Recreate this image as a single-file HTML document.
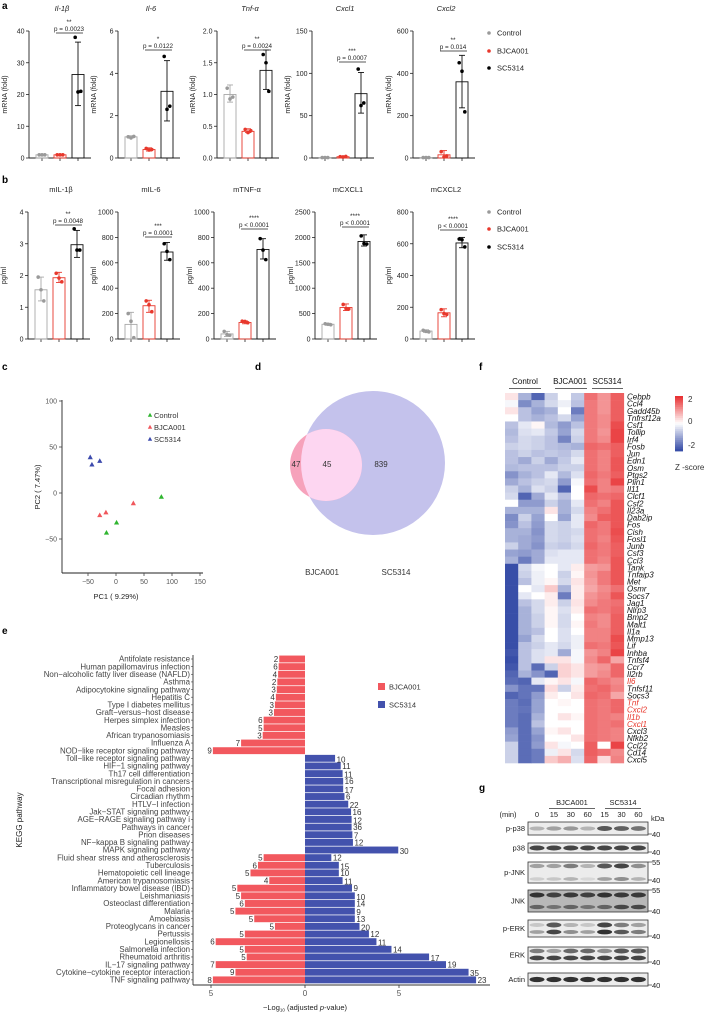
<!DOCTYPE html>
<html><head><meta charset="utf-8"><style>
body{margin:0;background:#fff}
svg{display:block;font-family:"Liberation Sans",Arial,sans-serif}
</style></head><body>
<svg id="fig" width="718" height="1014" viewBox="0 0 718 1014" xmlns="http://www.w3.org/2000/svg">
<defs><clipPath id="bigc"><circle cx="373" cy="463" r="72"/></clipPath></defs>
<g font-weight="bold" font-size="10" fill="#000">
<text x="2" y="9">a</text>
<text x="2" y="183">b</text>
<text x="2" y="370">c</text>
<text x="255" y="370">d</text>
<text x="2" y="634">e</text>
<text x="479" y="370">f</text>
<text x="479" y="791">g</text>
</g>
<g>
<circle cx="373" cy="463" r="72" fill="#c4c2ec"/>
<circle cx="326" cy="465" r="36" fill="#f6a2bb"/>
<circle cx="326" cy="465" r="36" fill="#fdd6f1" clip-path="url(#bigc)"/>
<text x="296" y="467" font-size="8" text-anchor="middle" fill="#333">47</text>
<text x="327" y="467" font-size="8" text-anchor="middle" fill="#333">45</text>
<text x="381" y="467" font-size="8" text-anchor="middle" fill="#333">839</text>
<text x="322" y="575" font-size="8" text-anchor="middle" fill="#333">BJCA001</text>
<text x="396" y="575" font-size="8" text-anchor="middle" fill="#333">SC5314</text>
</g>
</svg>
<script>
// ---------- data: panel a ----------
const aTitles=["Il-1β","Il-6","Tnf-α","Cxcl1","Cxcl2"];
const aMax=[40,6,2,150,600];
const aTicks=[[0,10,20,30,40],[0,2,4,6],[0,0.5,1,1.5,2],[0,50,100,150],[0,200,400,600]];
const aTickLabels=[["0","10","20","30","40"],["0","2","4","6"],["0.0","0.5","1.0","1.5","2.0"],["0","50","100","150"],["0","200","400","600"]];
const aMeans=[[1,1,26.3],[1,0.4,3.15],[1,0.42,1.38],[0.5,1.5,76],[2,15,360]];
const aErrLo=[[0.8,0.8,16.5],[0.95,0.33,1.75],[0.88,0.4,1.08],[0,1,53],[0,0,237]];
const aErrHi=[[1.2,1.2,36.5],[1.05,0.48,4.6],[1.15,0.46,1.7],[1,2,101],[4,35,485]];
const aPts=[[[1,1,1],[1,1,1],[38,20.8,21]],[[1,0.95,1.02],[0.45,0.38,0.4],[4.8,2.3,2.45]],[[1.1,0.93,0.96],[0.45,0.4,0.43],[1.63,1.5,1.05]],[[0.5,0.5,0.5],[1.5,1.2,1.8],[105,62,65]],[[2,2,2],[30,5,10],[450,410,218]]];
const aStars=["**","*","**","***","**"];
const aP=["p = 0.0023","p = 0.0122","p = 0.0024","p = 0.0007","p = 0.014"];
// ---------- data: panel b ----------
const bTitles=["mIL-1β","mIL-6","mTNF-α","mCXCL1","mCXCL2"];
const bMax=[4,1000,1000,2500,800];
const bTicks=[[0,1,2,3,4],[0,200,400,600,800,1000],[0,200,400,600,800,1000],[0,500,1000,1500,2000,2500],[0,200,400,600,800]];
const bTickLabels=[["0","1","2","3","4"],["0","200","400","600","800","1000"],["0","200","400","600","800","1000"],["0","500","1000","1500","2000","2500"],["0","200","400","600","800"]];
const bMeans=[[1.55,1.93,2.97],[115,262,685],[40,130,705],[290,620,1920],[50,165,605]];
const bErrLo=[[1.2,1.78,2.57],[0,210,620],[20,120,630],[270,560,1830],[42,140,575]];
const bErrHi=[[1.95,2.1,3.42],[210,305,760],[60,142,790],[310,690,2050],[58,190,640]];
const bPts=[[[1.95,1.55,1.2],[2.07,1.92,1.8],[3.47,2.8,2.8]],[[200,140,10],[300,270,215],[750,690,625]],[[60,35,30],[140,138,128],[790,700,625]],[[300,290,280],[680,600,590],[2030,1880,1870]],[[55,48,45],[185,160,155],[630,625,580]]];
const bStars=["**","***","****","****","****"];
const bP=["p = 0.0048","p = 0.0001","p < 0.0001","p < 0.0001","p < 0.0001"];
// ---------- data: panel c ----------
const pcaCtrl=[[81,-4],[1,-32],[-17,-43]];
const pcaBj=[[31,-11],[-29,-24],[-18,-21]];
const pcaSc=[[-46,39],[-43,31],[-29,35]];
const pcaXTicks=[-50,0,50,100,150];
const pcaYTicks=[-50,0,50,100];
// ---------- data: panel e ----------
const keggNames=["Antifolate resistance","Human papillomavirus infection","Non−alcoholic fatty liver disease (NAFLD)","Asthma","Adipocytokine signaling pathway","Hepatitis C","Type I diabetes mellitus","Graft−versus−host disease","Herpes simplex infection","Measles","African trypanosomiasis","Influenza A","NOD−like receptor signaling pathway","Toll−like receptor signaling pathway","HIF−1 signaling pathway","Th17 cell differentiation","Transcriptional misregulation in cancers","Focal adhesion","Circadian rhythm","HTLV−I infection","Jak−STAT signaling pathway","AGE−RAGE signaling pathway i","Pathways in cancer","Prion diseases","NF−kappa B signaling pathway","MAPK signaling pathway","Fluid shear stress and atherosclerosis","Tuberculosis","Hematopoietic cell lineage","American trypanosomiasis","Inflammatory bowel disease (IBD)","Leishmaniasis","Osteoclast differentiation","Malaria","Amoebiasis","Proteoglycans in cancer","Pertussis","Legionellosis","Salmonella infection","Rheumatoid arthritis","IL−17 signaling pathway","Cytokine−cytokine receptor interaction","TNF signaling pathway"];
const keggBj=[1.37,1.4,1.43,1.47,1.5,1.55,1.6,1.65,2.2,2.2,2.25,3.4,4.9,0,0,0,0,0,0,0,0,0,0,0,0,0,2.2,2.5,2.9,1.9,3.6,3.4,3.2,3.7,2.7,1.6,3.2,4.75,3.2,3.1,4.75,3.7,4.9];
const keggBjCount=[2,6,4,2,3,4,3,3,6,5,3,7,9,0,0,0,0,0,0,0,0,0,0,0,0,0,5,6,5,4,5,5,6,5,5,5,5,6,5,5,7,9,8];
const keggSc=[0,0,0,0,0,0,0,0,0,0,0,0,0,1.6,1.9,2.0,2.03,2.03,2.1,2.3,2.45,2.48,2.48,2.52,2.55,4.96,1.4,1.8,1.8,2.0,2.5,2.65,2.65,2.65,2.65,2.9,3.4,3.8,4.6,6.6,7.5,8.7,9.1];
const keggScCount=[0,0,0,0,0,0,0,0,0,0,0,0,0,10,11,11,16,17,6,22,16,12,36,7,12,30,12,15,10,11,9,10,14,9,13,20,12,11,14,17,19,35,23];
const keggXTicks=[-5,0,5];
// ---------- data: panel f ----------
const genes=["Cebpb","Ccl4","Gadd45b","Tnfrsf12a","Csf1","Tollip","Irf4","Fosb","Jun","Edn1","Osm","Ptgs2","Plin1","Il11","Clcf1","Csf2","Il23a","Dab2ip","Fos","Cish","Fosl1","Junb","Csf3","Ccl3","Tank","Tnfaip3","Met","Osmr","Socs7","Jag1","Nlrp3","Bmp2","Malt1","Il1a","Mmp13","Lif","Inhba","Tnfsf4","Ccr7","Il2rb","Il6","Tnfsf11","Socs3","Tnf","Cxcl2","Il1b","Cxcl1","Cxcl3","Nfkb2","Ccl22","Cd14","Cxcl5"];
const redGenes=["Il6","Tnf","Cxcl2","Il1b","Cxcl1"];
const zScores=[
[0.3,-1,-2,-0.6,0,-0.7,1.6,1.2,1.8],[-0.1,-1.5,-1,-0.5,-0.2,-0.8,1.5,1.2,1.8],[0.3,-0.8,-1.2,-1,0,-1.7,1.5,1.2,1.8],[0,-0.8,-1,-0.8,-0.5,-1.2,1.5,1.3,1.8],
[-0.8,-0.3,0.1,-0.9,-1.3,-0.8,1.5,1.3,2],[-0.9,-0.4,-0.3,-0.7,-1.2,-0.5,1.5,1.2,2.1],[-0.8,-0.5,-0.6,-0.8,-1.6,-0.6,1.5,1.3,2.1],[-0.6,-0.5,-0.6,-0.8,-0.9,-1,1.7,1.6,1.8],
[-0.8,-0.6,-0.8,-0.7,-0.8,-0.5,1.6,1.4,1.8],[-0.8,-1.1,-0.6,-1.1,-0.7,-0.3,1.6,1.4,1.9],[-0.9,-0.8,-0.8,-0.8,-0.6,-0.6,1.6,1.4,1.9],[-1.4,-1,-0.8,-0.3,-0.9,-0.4,1.7,1.5,1.8],
[-1.1,-0.8,-0.6,-0.5,-1.3,-0.1,1.6,1.4,2.1],[-0.6,-1,-0.4,-0.6,-2,0,2,1.4,1.5],[-0.5,-2,-1.1,-0.3,-0.8,0,1.7,1.6,1.7],[0,-1.3,-1.3,-0.6,-1,-0.3,1.6,1.4,1.9],
[-1,-1,-1,0.3,-1,-0.5,1.4,1.6,1.9],[-1.5,-0.6,-1.2,0,-1.2,-0.3,1.3,1.8,1.9],[-1.4,-0.8,-1.3,-0.5,-0.6,-0.3,1.7,1.5,1.9],[-1,-1,-1.4,-0.5,-0.6,-0.5,1.6,1.5,2],
[-1,-1.1,-1.3,-0.5,-0.6,-0.4,1.6,1.4,1.9],[-0.6,-1.1,-1.4,-0.6,-0.7,-0.5,1.7,1.5,1.8],[-1.2,-1.3,-1.1,-0.4,-0.3,-0.3,1.6,1.5,1.8],[-1,-1.7,-1.1,-0.3,-0.3,-0.3,1.6,1.4,1.9],
[-2.3,-0.5,-0.1,0,-0.3,0.2,1.1,1.2,1.9],[-2.3,-0.6,-0.2,0,-0.6,0.1,1.2,1.5,1.9],[-2.3,-0.8,-0.2,0.1,-0.5,0.3,1.1,1.5,1.9],[-2.3,0,-0.3,0.6,-1,0.2,1,1.3,1.6],
[-2.3,-0.3,0,0.2,-1.7,0.2,1.2,1.4,1.9],[-2.3,-0.8,-0.5,0.2,-0.6,0.3,1.3,1.5,1.6],[-2.3,-1,-0.5,0.1,-0.4,0.2,1.6,1.5,1.7],[-2.3,-1,-0.6,0.1,-0.5,0,1.4,1.3,1.8],
[-2.3,-1,-0.6,0.1,-0.5,0.1,1.5,1.3,1.8],[-2.3,-1,-0.8,0,-0.4,0,1.4,1.4,1.8],[-2.3,-1.2,-0.5,0,-0.4,-0.2,1.4,1.4,2],[-2.3,-0.8,-0.6,-0.3,-0.5,-0.2,1.6,1.5,1.9],
[-2.2,-0.8,-0.4,-0.3,-1.1,-0.1,1.2,1.4,2.1],[-2.5,-0.8,-0.4,0.3,0.3,-0.1,1.3,1.7,1],[-2.2,-0.8,-1.9,-0.6,0.5,0.3,1.1,1.2,1.7],[-2,-1,-1.4,-2,0.5,0.3,1.1,1.3,1.7],
[-1.9,-2,-0.3,0.1,0.3,-0.1,1.7,1.5,1.3],[-1.4,-1.8,-1.8,0.4,-0.6,0.2,1.6,1.7,1.4],[-2,-1.8,-1.3,0.2,0,0.3,1.7,1.6,1],[-1.7,-1.9,-1.2,0,0.1,0,1.6,1.5,1.7],
[-1.7,-1.8,-1.2,0,0,0,1.6,1.5,1.7],[-1.7,-1.9,-1,0,0.3,0.1,1.6,1.5,1.4],[-1.7,-1.9,-0.8,0,0,0,1.6,1.5,1.6],[-1.3,-1.9,-1.2,0.1,0.3,0,1.6,1.5,1.4],
[-1.2,-1.9,-1.4,0,0,0.3,1.6,1.5,1.4],[-0.6,-1.9,-1.3,0.3,-0.1,0,1.8,0,2.1],[-0.6,-1.9,-1.7,-0.2,0.3,-0.5,1.8,1.6,1.3],[-0.6,-1.9,-1.7,0.6,0.9,-0.4,1.7,0.4,1.4]];
// ---------- data: panel g ----------
const blotRows=["p-p38","p38","p-JNK","JNK","p-ERK","ERK","Actin"];
const laneLabels=["0","15","30","60","15","30","60"];
const blotUpper=[[0.3,0.4,0.45,0.3,0.8,0.75,0.65],[0.9,0.9,0.9,0.9,0.9,0.9,0.9],[0.4,0.4,0.6,0.3,0.8,0.9,0.5],[0.95,0.85,0.9,0.85,0.95,0.9,0.9],[0.2,0.8,0.3,0.2,0.9,0.6,0.4],[0.6,0.4,0.7,0.7,0.5,0.8,0.8],[1,1,1,1,1,1,1]];
const blotLower=[null,null,[0.15,0.2,0.3,0.1,0.4,0.5,0.3],[0.6,0.5,0.6,0.5,0.6,0.8,0.8],[0.4,0.9,0.5,0.4,1,0.8,0.6],[0.9,0.9,0.9,0.9,0.9,0.9,0.9],null];

const NS='http://www.w3.org/2000/svg';
const svg=document.getElementById('fig');
function mk(tag,attrs,parent){const e=document.createElementNS(NS,tag);for(const k in attrs)e.setAttribute(k,attrs[k]);(parent||svg).appendChild(e);return e;}
function tx(x,y,s,attrs,parent){const e=mk('text',Object.assign({x:x,y:y},attrs||{}),parent);e.textContent=s;return e;}

// ---------- bar panels ----------
const groupColors=["#a8a8a8","#e8382c","#111"];
const ptColors=["#9a9a9a","#e8382c","#000"];
const barOffsets=[13,31,49];
function barChart(axX,topY,zeroY,i,title,max,ticks,tlabels,means,lo,hi,pts,stars,pval,brY,italic,ylab){
  const g=mk('g',{});
  
  
  const sy=v=>zeroY-(v/max)*(zeroY-topY);
  const t=tx(axX+33,topY-20,title,{'font-size':7.5,'text-anchor':'middle','fill':'#222','font-style':italic?'italic':'normal'},g);
  
  
  const yl=tx(0,0,ylab,{'font-size':7,'text-anchor':'middle','fill':'#222','transform':`translate(${axX-22},${(topY+zeroY)/2}) rotate(-90)`},g);
  
  
  const ya=mk('line',{x1:axX,y1:topY,x2:axX,y2:zeroY,stroke:'#222','stroke-width':0.9},g);
  
  
  const xa=mk('line',{x1:axX,y1:zeroY,x2:axX+62,y2:zeroY,stroke:'#222','stroke-width':0.9},g);
  
  
  ticks.forEach((v,k)=>{
    const tk=mk('line',{x1:axX-3,y1:sy(v),x2:axX,y2:sy(v),stroke:'#222','stroke-width':0.8},g);
    
    
    const tl=tx(axX-4.5,sy(v)+2.5,tlabels[k],{'font-size':7,'text-anchor':'end','fill':'#222'},g);
    
    
  });
  for(let j=0;j<3;j++){
    const cx=axX+barOffsets[j];
    const xt=mk('line',{x1:cx,y1:zeroY,x2:cx,y2:zeroY+3,stroke:'#222','stroke-width':0.8},g);
    
    
    const b=mk('rect',{x:cx-6,y:sy(means[j]),width:12,height:Math.max(0,zeroY-sy(means[j])),fill:'none',stroke:groupColors[j],'stroke-width':0.9},g);
    
    
    const e1=mk('line',{x1:cx,y1:sy(lo[j]),x2:cx,y2:sy(hi[j]),stroke:groupColors[j],'stroke-width':0.9},g);
    
    
    [lo[j],hi[j]].forEach(v=>{
      const c=mk('line',{x1:cx-3,y1:sy(v),x2:cx+3,y2:sy(v),stroke:groupColors[j],'stroke-width':0.9},g);
      
      
    });
    pts[j].forEach((v,k)=>{
      const p=mk('circle',{cx:cx+(k-1)*2.8,cy:sy(v),r:1.8,fill:ptColors[j]},g);
      
      
    });
  }
  const br=mk('line',{x1:axX+27,y1:brY,x2:axX+54,y2:brY,stroke:'#222','stroke-width':0.8},g);
  
  
  const pt=tx(axX+40,brY-2,pval,{'font-size':6.3,'text-anchor':'middle','fill':'#222'},g);
  
  
  const st=tx(axX+40,brY-9,stars,{'font-size':6.5,'text-anchor':'middle','fill':'#222'},g);
  
  
}
const aAxX=[29,118,217,312,413], bAxX=[28,118,214,315,413];
const aBrY=[33,50,50,62,51], bBrY=[225,237,229,227,230];
for(let i=0;i<5;i++){
  barChart(aAxX[i],31,158,i,aTitles[i],aMax[i],aTicks[i],aTickLabels[i],aMeans[i],aErrLo[i],aErrHi[i],aPts[i],aStars[i],aP[i],aBrY[i],true,'mRNA (fold)');
  barChart(bAxX[i],212,339,i,bTitles[i],bMax[i],bTicks[i],bTickLabels[i],bMeans[i],bErrLo[i],bErrHi[i],bPts[i],bStars[i],bP[i],bBrY[i],false,'pg/ml');
}
const legNames=["Control","BJCA001","SC5314"];
[[33,51,68],[212,229,247]].forEach((ys,pi)=>{
  ys.forEach((y,j)=>{
    const d=mk('circle',{cx:489,cy:y,r:1.8,fill:ptColors[j]});
    
    
    const l=tx(497,y+2.5,legNames[j],{'font-size':7.5,'fill':'#222'});
    
    
  });
});

// ---------- panel c ----------
(function(){
  const sx=v=>116+v*0.56, sy=v=>493-v*0.92;
  const g=mk('g',{});
  
  
  const ya=mk('line',{x1:62,y1:400,x2:62,y2:573,stroke:'#222','stroke-width':0.9},g);
  
  
  const xa=mk('line',{x1:62,y1:573,x2:203,y2:573,stroke:'#222','stroke-width':0.9},g);
  
  
  pcaYTicks.forEach(v=>{
    const t=mk('line',{x1:59,y1:sy(v),x2:62,y2:sy(v),stroke:'#444','stroke-width':0.8},g);
    
    
    const l=tx(57,sy(v)+2.5,String(v).replace('-','−'),{'font-size':7,'text-anchor':'end','fill':'#555'},g);
    
    
  });
  pcaXTicks.forEach(v=>{
    const t=mk('line',{x1:sx(v),y1:573,x2:sx(v),y2:576,stroke:'#444','stroke-width':0.8},g);
    
    
    const l=tx(sx(v),584,String(v).replace('-','−'),{'font-size':7,'text-anchor':'middle','fill':'#555'},g);
    
    
  });
  const xt=tx(116,599,'PC1 ( 9.29%)',{'font-size':7.5,'text-anchor':'middle','fill':'#222'},g);
  
  
  const yt=tx(0,0,'PC2 ( 7.47%)',{'font-size':7.5,'text-anchor':'middle','fill':'#222','transform':'translate(40,487) rotate(-90)'},g);
  
  
  const tri=(x,y,s)=>`${x},${y-s} ${x-s},${y+s*0.8} ${x+s},${y+s*0.8}`;
  [[pcaCtrl,'#2fb52f'],[pcaBj,'#f0575c'],[pcaSc,'#3c4aad']].forEach(([arr,col])=>{
    arr.forEach(p=>{
      const m=mk('polygon',{points:tri(sx(p[0]),sy(p[1]),2.6),fill:col},g);
      
      
    });
  });
  [['Control','#2fb52f',417],['BJCA001','#f0575c',429],['SC5314','#3c4aad',441]].forEach(([n,c,y])=>{
    const m=mk('polygon',{points:tri(150,y-2,2.2),fill:c},g);
    
    
    const l=tx(154,y+1,n,{'font-size':7.5,'fill':'#333'},g);
    
    
  });
})();

// ---------- panel e ----------
(function(){
  const zx=305, k=18.8, top=659, step=7.64, h=6.9;
  const sx=v=>zx+v*k;
  const g=mk('g',{});
  
  
  keggNames.forEach((n,i)=>{
    const y=top+i*step;
    const l=tx(190,y+2.7,n,{'font-size':7.9,'text-anchor':'end','fill':'#444'},g);
    
    
    const tk=mk('line',{x1:191,y1:y,x2:193,y2:y,stroke:'#444','stroke-width':0.6},g);
    
    
    if(keggBj[i]>0){
      const b=mk('rect',{x:sx(-keggBj[i]),y:y-h/2,width:keggBj[i]*k,height:h,fill:'#f2585e'},g);
      
      
      const c=tx(sx(-keggBj[i])-1,y+3,String(keggBjCount[i]),{'font-size':8,'text-anchor':'end','fill':'#333'},g);
      
      
    }
    if(keggSc[i]>0){
      const b=mk('rect',{x:zx,y:y-h/2,width:keggSc[i]*k,height:h,fill:'#4352ad'},g);
      
      
      const c=tx(sx(keggSc[i])+1.5,y+(i%2?4:3),String(keggScCount[i]),{'font-size':8,'fill':'#333'},g);
      
      
    }
  });
  const ya=mk('line',{x1:193,y1:655,x2:193,y2:985,stroke:'#333','stroke-width':0.9},g);
  
  
  const xa=mk('line',{x1:193,y1:985,x2:490,y2:985,stroke:'#333','stroke-width':0.9},g);
  
  
  keggXTicks.forEach(v=>{
    const t=mk('line',{x1:sx(v),y1:985,x2:sx(v),y2:988,stroke:'#333','stroke-width':0.8},g);
    
    
    const l=tx(sx(v),996,String(Math.abs(v)),{'font-size':8,'text-anchor':'middle','fill':'#555'},g);
    
    
  });
  const xt=mk('text',{x:305,y:1010,'font-size':7.5,'text-anchor':'middle','fill':'#222'},g);
  xt.innerHTML='−Log<tspan font-size="4.5" dy="1.5">10</tspan><tspan dy="-1.5"> (adjusted </tspan><tspan font-style="italic">p</tspan>-value)';
  
  
  const yt=tx(0,0,'KEGG pathway',{'font-size':8,'text-anchor':'middle','fill':'#222','transform':'translate(22,820) rotate(-90)'},g);
  
  
  [['BJCA001','#f2585e',687],['SC5314','#4352ad',705]].forEach(([n,c,y])=>{
    const r=mk('rect',{x:378,y:y-4,width:7,height:7,fill:c},g);
    
    
    const l=tx(389,y+2.5,n,{'font-size':7.5,'fill':'#333'},g);
    
    
  });
})();

// ---------- panel f ----------
(function(){
  const x0=505, cw=13.2, y0=393, rh=370/52;
  function col(z){
    z=Math.max(-2.3,Math.min(2.3,z))/2.3;
    const lo=[56,78,168], hi=[232,50,52], w=[255,255,255];
    const t=Math.abs(z), e=z<0?lo:hi;
    return `rgb(${w.map((c,i)=>Math.round(c+(e[i]-c)*t)).join(',')})`;
  }
  const g=mk('g',{});
  
  
  zScores.forEach((row,r)=>{
    row.forEach((z,c)=>{
      const cell=mk('rect',{x:x0+c*cw,y:y0+r*rh,width:cw+0.3,height:rh+0.3,fill:col(z)},g);
      
      
    });
    const l=tx(627,y0+r*rh+rh-0.5,genes[r],{'font-size':8,'font-style':'italic','fill':redGenes.includes(genes[r])?'#e8382c':'#111'},g);
    
    
  });
  [['Control',525,509,541],['BJCA001',570,555,587],['SC5314',607,592,623]].forEach(([n,x,a,b])=>{
    const l=tx(x,384,n,{'font-size':8,'text-anchor':'middle','fill':'#111'},g);
    
    
    const u=mk('line',{x1:a,y1:388.5,x2:b,y2:388.5,stroke:'#333','stroke-width':0.8},g);
    
    
  });
  const steps=30;
  for(let s=0;s<steps;s++){
    const z=2.3-4.6*s/(steps-1);
    const r=mk('rect',{x:675,y:396+s*(55/steps),width:8,height:55/steps+0.4,fill:col(z)},g);
    
    
  }
  [['2',402],['0',424],['-2',448]].forEach(([t,y])=>{
    const l=tx(688,y,t,{'font-size':8,'fill':'#333'},g);
    
    
  });
  const zt=tx(675,470,'Z -score',{'font-size':8,'fill':'#333'},g);
  
  
})();

// ---------- panel g ----------
(function(){
  const lanes=laneLabels.map((_,i)=>537+16.9*i);
  const boxes=[[822,835],[843,853],[862,883],[890,912],[920,937],[947,963],[973,986]];
  const upperY=[828.5,848,866,895,925,951,979.5];
  const lowerY=[0,0,879,907,932,958,0];
  const markers=[[['40',836]],[['40',854]],[['55',864],['40',882]],[['55',892],['40',913]],[['40',938]],[['40',964]],[['40',987]]];
  const g=mk('g',{});
  
  
  const m=tx(508,817,'(min)',{'font-size':7.5,'text-anchor':'middle','fill':'#222'},g);
  
  
  laneLabels.forEach((t,i)=>{
    const l=tx(lanes[i],817,t,{'font-size':7.5,'text-anchor':'middle','fill':'#222'},g);
    
    
  });
  [['BJCA001',572,549,595],['SC5314',623,605,641]].forEach(([n,x,a,b])=>{
    const l=tx(x,805,n,{'font-size':7.5,'text-anchor':'middle','fill':'#222'},g);
    
    
    const u=mk('line',{x1:a,y1:808.5,x2:b,y2:808.5,stroke:'#333','stroke-width':0.8},g);
    
    
  });
  const kd=tx(651,821,'kDa',{'font-size':7.5,'fill':'#222'},g);
  
  
  blotRows.forEach((n,r)=>{
    const [a,b]=boxes[r];
    const bx=mk('rect',{x:528,y:a,width:120,height:b-a,fill:r===3?'#b8b8b8':'#ececec',stroke:'#333','stroke-width':0.8},g);
    
    
    const l=tx(525,(a+b)/2+2.7,n,{'font-size':7.5,'text-anchor':'end','fill':'#222'},g);
    
    
    lanes.forEach((x,i)=>{
      const u=blotUpper[r][i];
      const e=mk('ellipse',{cx:x,cy:upperY[r],rx:7.5,ry:1.8+u*0.8,fill:'#111','fill-opacity':u*0.85},g);
      
      
      if(blotLower[r]){
        const v=blotLower[r][i];
        const e2=mk('ellipse',{cx:x,cy:lowerY[r],rx:7.5,ry:1.6+v*0.8,fill:'#111','fill-opacity':v*0.85},g);
        
        
      }
    });
    markers[r].forEach(([t,y])=>{
      const tk=mk('line',{x1:648,y1:y-2,x2:652,y2:y-2,stroke:'#333','stroke-width':0.7},g);
      
      
      const l=tx(652,y+1,t,{'font-size':7.5,'fill':'#222'},g);
      
      
    });
  });
})();
</script>
</body></html>
